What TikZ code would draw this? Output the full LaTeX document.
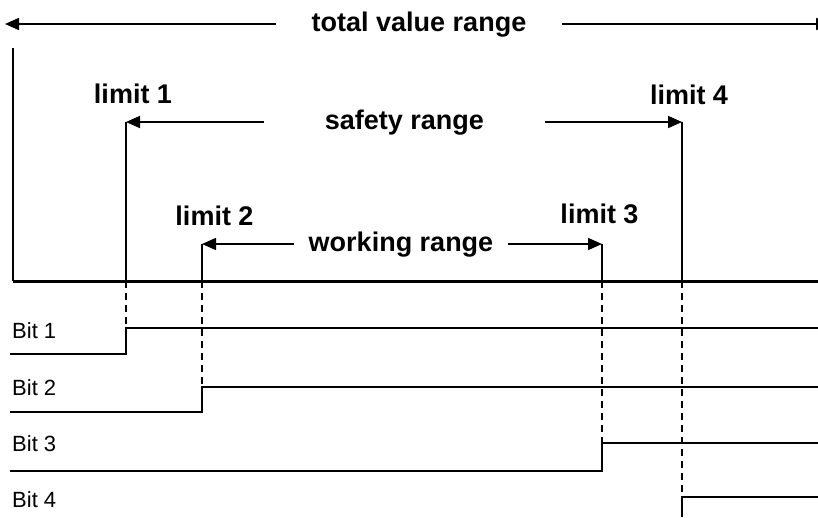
\documentclass[tikz,border=0pt]{standalone}
\usepackage{fontspec}
\setmainfont{Liberation Sans}
\usetikzlibrary{arrows.meta}

\begin{document}
\begin{tikzpicture}[x=1pt, y=-1pt,
		rangelabel/.style={font=\fontsize{27}{30}\selectfont\bfseries, text height=19pt, text depth=5pt},
		limitlabel/.style={font=\fontsize{27}{30}\selectfont\bfseries, anchor=base, inner sep=0pt},
		bitlabel/.style={font=\fontsize{22}{26}\selectfont, anchor=base west, inner sep=0pt},
		wire/.style={line width=1.6pt},
		rangearrow/.style={line width=1.6pt, -{Triangle[length=14pt, width=12pt]}},
		dashdrop/.style={line width=1.6pt, dash pattern=on 7pt off 5pt},
		signal/.style={line width=1.6pt}]
		\useasboundingbox (0,0) rectangle (818,517);
		% Limits on the scale:
		\coordinate (lim1) at (126,281);
		\coordinate (lim2) at (202,281);
		\coordinate (lim3) at (602,281);
		\coordinate (lim4) at (682,281);
		\coordinate (lim1top) at (126,122);
		\coordinate (lim4top) at (682,122);
		\coordinate (lim2top) at (202,244);
		\coordinate (lim3top) at (602,244);
		\coordinate (axisL) at (13,281);
		\coordinate (axisR) at (818,281);
		\coordinate (axisTop) at (13,48);
		\coordinate (totL) at (5,24);
		\coordinate (totR) at (830,24);
		% Ranges:
		\node[rangelabel, inner xsep=36pt] (total) at (419,24) {total value range};
		\node[rangelabel, inner xsep=61pt] (safety) at (404.5,122) {safety range};
		\node[rangelabel, inner xsep=15pt] (working) at (401,244) {working range};
		\draw[rangearrow] (total.west) -- (totL);
		\draw[rangearrow] (total.east) -- (totR);
		\draw[rangearrow] (safety.west) -- (lim1top);
		\draw[rangearrow] (safety.east) -- (lim4top);
		\draw[rangearrow] (working.west) -- (lim2top);
		\draw[rangearrow] (working.east) -- (lim3top);
		\draw[wire] (axisTop) -- (axisL);
		\draw[wire] (lim1top) -- (lim1);
		\draw[wire] (lim4top) -- (lim4);
		\draw[wire] (lim2top) -- (lim2);
		\draw[wire] (lim3top) -- (lim3);
		\draw[line width=3pt] (axisL) -- (axisR);
		\node[limitlabel] (l1) at (133,103) {limit 1};
		\node[limitlabel] (l2) at (214.5,225) {limit 2};
		\node[limitlabel] (l3) at (599.5,223) {limit 3};
		\node[limitlabel] (l4) at (689,104) {limit 4};
		% Bits:
		\node[bitlabel] (bit1) at (12,338) {Bit 1};
		\node[bitlabel] (bit2) at (12,395) {Bit 2};
		\node[bitlabel] (bit3) at (12,451) {Bit 3};
		\node[bitlabel] (bit4) at (12,507) {Bit 4};
		\coordinate (b1start) at (10,354);
		\coordinate (b1step) at (126,328);
		\coordinate (b1end) at (818,328);
		\coordinate (b2start) at (10,412);
		\coordinate (b2step) at (202,387);
		\coordinate (b2end) at (818,387);
		\coordinate (b3start) at (10,471);
		\coordinate (b3step) at (602,443);
		\coordinate (b3end) at (818,443);
		\coordinate (b4start) at (682,517);
		\coordinate (b4step) at (682,497);
		\coordinate (b4end) at (818,497);
		\draw[signal] (b1start) -| (b1step) -- (b1end);
		\draw[signal] (b2start) -| (b2step) -- (b2end);
		\draw[signal] (b3start) -| (b3step) -- (b3end);
		\draw[signal] (b4start) -- (b4step) -- (b4end);
		\draw[dashdrop] (lim1) -- (b1step);
		\draw[dashdrop] (lim2) -- (b2step);
		\draw[dashdrop] (lim3) -- (b3step);
		\draw[dashdrop] (lim4) -- (b4step);
	\end{tikzpicture}
\end{document}
